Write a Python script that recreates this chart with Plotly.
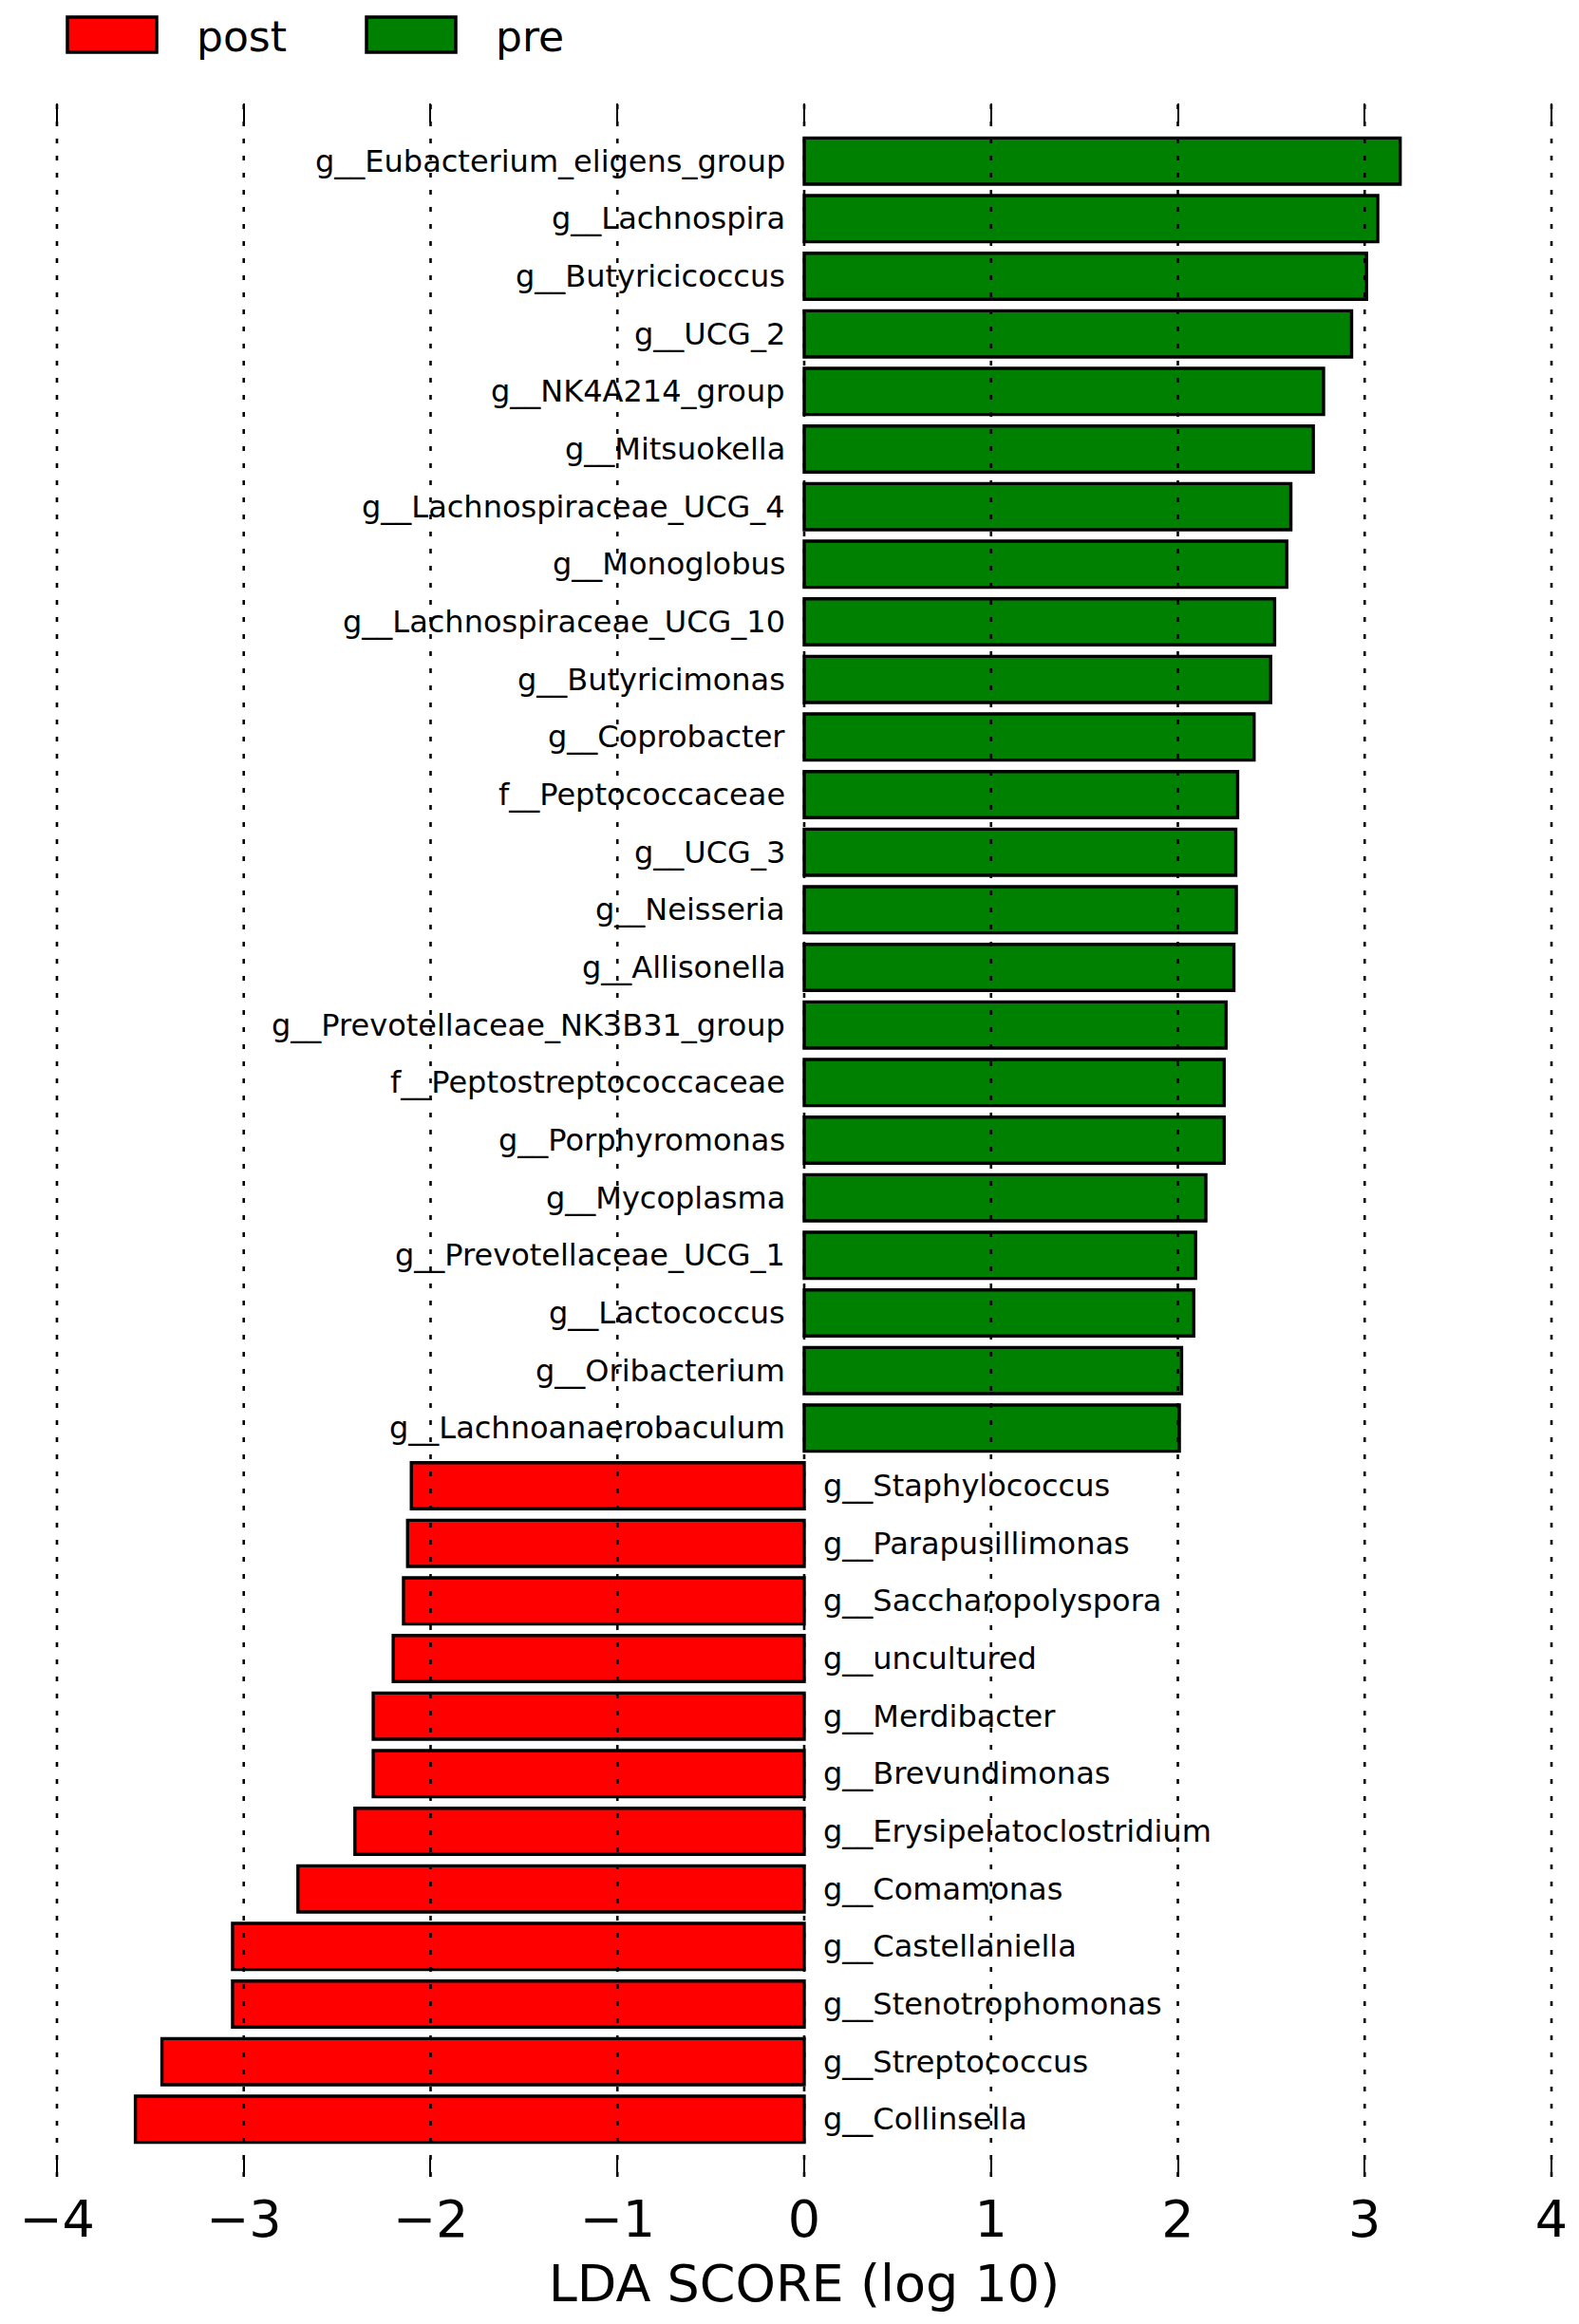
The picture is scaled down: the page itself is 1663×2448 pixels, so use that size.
import plotly.graph_objects as go

# LEfSe LDA scores (top to bottom)
pre_taxa = [
    "g__Eubacterium_eligens_group", "g__Lachnospira", "g__Butyricicoccus", "g__UCG_2",
    "g__NK4A214_group", "g__Mitsuokella", "g__Lachnospiraceae_UCG_4", "g__Monoglobus",
    "g__Lachnospiraceae_UCG_10", "g__Butyricimonas", "g__Coprobacter", "f__Peptococcaceae",
    "g__UCG_3", "g__Neisseria", "g__Allisonella", "g__Prevotellaceae_NK3B31_group",
    "f__Peptostreptococcaceae", "g__Porphyromonas", "g__Mycoplasma", "g__Prevotellaceae_UCG_1",
    "g__Lactococcus", "g__Oribacterium", "g__Lachnoanaerobaculum",
]
pre_lda = [3.19, 3.07, 3.01, 2.93, 2.78, 2.725, 2.605, 2.583, 2.518, 2.497, 2.408, 2.32,
           2.31, 2.313, 2.30, 2.258, 2.248, 2.248, 2.15, 2.095, 2.085, 2.02, 2.008]

post_taxa = [
    "g__Staphylococcus", "g__Parapusillimonas", "g__Saccharopolyspora", "g__uncultured",
    "g__Merdibacter", "g__Brevundimonas", "g__Erysipelatoclostridium", "g__Comamonas",
    "g__Castellaniella", "g__Stenotrophomonas", "g__Streptococcus", "g__Collinsella",
]
post_lda = [-2.103, -2.123, -2.145, -2.20, -2.307, -2.307, -2.405, -2.71,
            -3.06, -3.06, -3.438, -3.58]

groups = ["post", "pre"]
group_colors = {"post": "#ff0000", "pre": "#008000"}
x_ticks = [-4, -3, -2, -1, 0, 1, 2, 3, 4]

FONT = "DejaVu Sans"
order = (pre_taxa + post_taxa)[::-1]  # bottom -> top for the category axis

fig = go.Figure()
fig.add_trace(go.Bar(y=pre_taxa, x=pre_lda, orientation="h", width=0.8, name="pre",
                     marker=dict(color=group_colors["pre"], line=dict(color="black", width=3.4)),
                     showlegend=False))
fig.add_trace(go.Bar(y=post_taxa, x=post_lda, orientation="h", width=0.8, name="post",
                     marker=dict(color=group_colors["post"], line=dict(color="black", width=3.4)),
                     showlegend=False))

# taxon names next to the zero line
for t in pre_taxa:
    fig.add_annotation(x=0, y=t, text=t, showarrow=False, xanchor="right", xshift=-18,
                       font=dict(family=FONT, size=32, color="black"))
for t in post_taxa:
    fig.add_annotation(x=0, y=t, text=t, showarrow=False, xanchor="left", xshift=18,
                       font=dict(family=FONT, size=32, color="black"))

# dotted grid drawn over the bars
for v in x_ticks:
    fig.add_shape(type="line", xref="x", yref="paper", x0=v, x1=v, y0=0, y1=1,
                  layer="above", line=dict(color="black", width=2.6, dash="5px,13px"))

# legend patches at the top (matplotlib style)
leg_x = {"post": 13, "pre": 328}
for g in groups:
    fig.add_shape(type="rect", xref="paper", yref="paper", xsizemode="pixel", ysizemode="pixel",
                  xanchor=0, yanchor=1, x0=leg_x[g], x1=leg_x[g] + 94, y0=54, y1=91,
                  fillcolor=group_colors[g], line=dict(color="black", width=3.5))
    fig.add_annotation(xref="paper", yref="paper", x=0, y=1, xshift=leg_x[g] + 134, yshift=71,
                       text=g, showarrow=False, xanchor="left", yanchor="middle",
                       font=dict(family=FONT, size=44, color="black"))

# the page body keeps its 8px margin, so the figure is sized to fit inside it
fig.update_layout(
    width=1655, height=2432,
    margin=dict(l=40, r=18, t=101, b=147),
    plot_bgcolor="white", paper_bgcolor="white",
    font=dict(family=FONT, color="black"),
    bargap=0.2,
)
# range padded a hair so plotly keeps the inside ticks at -4 and 4
fig.update_xaxes(
    range=[-4.01, 4.01], tickvals=x_ticks, ticks="inside", ticklen=20, tickwidth=2, tickcolor="black",
    mirror="ticks", showline=False, showgrid=False, zeroline=False,
    tickfont=dict(family=FONT, size=54, color="black"), ticklabelstandoff=8,
    title=dict(text="LDA SCORE (log 10)", font=dict(family=FONT, size=54, color="black"), standoff=18),
)
fig.update_yaxes(
    type="category", categoryorder="array", categoryarray=order, range=[-1, 35],
    showticklabels=False, ticks="", showgrid=False, zeroline=False, showline=False,
)

fig.write_html("out.html", config={"displayModeBar": False})
